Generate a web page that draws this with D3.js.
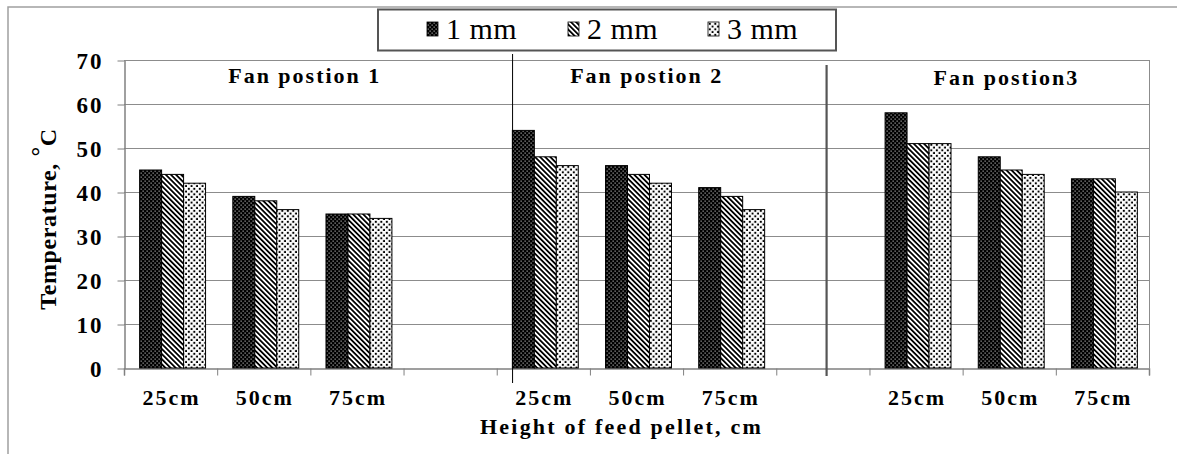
<!DOCTYPE html>
<html>
<head>
<meta charset="utf-8">
<script src="https://cdn.jsdelivr.net/npm/d3@7"></script>
<style>
  html, body { margin: 0; padding: 0; background: #fff; }
  svg { display: block; font-family: "Liberation Serif", "Times New Roman", serif; }
</style>
</head>
<body>
<svg id="chart" width="1177" height="454"></svg>
<script>
// data
var heights = ['25cm', '50cm', '75cm'];
var series = ['1 mm', '2 mm', '3 mm'];
var panels = ['Fan postion 1', 'Fan postion 2', 'Fan postion3'];
var mm1 = [45, 39, 35, 54, 46, 41, 58, 48, 43];
var mm2 = [44, 38, 35, 48, 44, 39, 51, 45, 43];
var mm3 = [42, 36, 34, 46, 42, 36, 51, 44, 40];
var yTicks = [0, 10, 20, 30, 40, 50, 60, 70];

(function () {
var values = [mm1, mm2, mm3];
var nSlots = 11;
var slots = d3.range(nSlots);

var svg = d3.select('#chart');
var plotL = 124, plotR = 1149, plotT = 60, plotB = 368;

// patterns
var defs = svg.append('defs');
var p1 = defs.append('pattern').attr('id', 'pat0').attr('patternUnits', 'userSpaceOnUse')
  .attr('width', 4).attr('height', 4);
p1.append('rect').attr('width', 4).attr('height', 4).attr('fill', '#000');
p1.append('rect').attr('x', 0.6).attr('y', 0.6).attr('width', 1).attr('height', 1).attr('fill', '#fff');
p1.append('rect').attr('x', 2.6).attr('y', 2.6).attr('width', 1).attr('height', 1).attr('fill', '#fff');

var p2 = defs.append('pattern').attr('id', 'pat1').attr('patternUnits', 'userSpaceOnUse')
  .attr('width', 3.6).attr('height', 3.6).attr('patternTransform', 'rotate(-45)');
p2.append('rect').attr('width', 3.6).attr('height', 3.6).attr('fill', '#fff');
p2.append('rect').attr('width', 1.8).attr('height', 3.6).attr('fill', '#000');

var p3 = defs.append('pattern').attr('id', 'pat2').attr('patternUnits', 'userSpaceOnUse')
  .attr('width', 5.5).attr('height', 5.5);
p3.append('rect').attr('width', 5.5).attr('height', 5.5).attr('fill', '#fff');
p3.append('rect').attr('x', 0.8).attr('y', 0.8).attr('width', 2).attr('height', 2).attr('fill', '#000');
p3.append('rect').attr('x', 3.55).attr('y', 3.55).attr('width', 2).attr('height', 2).attr('fill', '#000');

// outer frame
svg.append('path').attr('d', 'M8,454V7H1177')
  .attr('fill', 'none').attr('stroke', '#a0a0a0').attr('stroke-width', 1.5);

var x0 = d3.scaleBand().domain(slots).range([plotL, plotR]).padding(0);
var x1 = d3.scaleBand().domain(series).range([0, x0.bandwidth()]).paddingInner(0).paddingOuter(0.62);
var xs = d3.scaleLinear().domain([0, nSlots]).range([plotL, plotR]);
var y = d3.scaleLinear().domain([0, 70]).range([plotB, plotT]);

// grid
svg.append('g').selectAll('line').data(yTicks.slice(1)).enter().append('line')
  .attr('x1', plotL).attr('x2', plotR)
  .attr('y1', function (d) { return y(d) + 0.5; }).attr('y2', function (d) { return y(d) + 0.5; })
  .attr('stroke', '#8c8c8c').attr('stroke-width', 1);
svg.append('line').attr('x1', plotR + 0.5).attr('x2', plotR + 0.5).attr('y1', plotT).attr('y2', plotB)
  .attr('stroke', '#8c8c8c');

// y axis
var yAxis = svg.append('g').attr('transform', 'translate(' + (plotL + 0.5) + ',0.5)')
  .call(d3.axisLeft(y).tickValues(yTicks).tickSize(7).tickPadding(14).tickSizeOuter(0));
yAxis.select('.domain').attr('stroke', '#808080').attr('stroke-width', 1.5);
yAxis.selectAll('.tick line').attr('stroke', '#808080');
yAxis.selectAll('text').attr('font-family', '"Liberation Serif", serif').attr('font-size', 23)
  .attr('font-weight', 'bold').attr('fill', '#000').attr('letter-spacing', 2).attr('dy', '0.33em');

// x axis
var xAxis = svg.append('g').attr('transform', 'translate(0,' + (plotB + 0.5) + ')')
  .call(d3.axisBottom(xs).tickValues(d3.range(nSlots + 1)).tickSize(7).tickFormat(''));
xAxis.select('.domain').attr('stroke', '#808080').attr('stroke-width', 1.5);
xAxis.selectAll('.tick line').attr('stroke', '#808080');

// bars
var rows = [];
panels.forEach(function (p, pi) {
  heights.forEach(function (h, hi) {
    series.forEach(function (s, si) {
      rows.push({ slot: pi * 4 + hi, s: s, si: si, v: values[si][pi * 3 + hi] });
    });
  });
});
svg.append('g').selectAll('rect').data(rows).enter().append('rect')
  .attr('x', function (d) { return x0(d.slot) + x1(d.s) + 2; })
  .attr('y', function (d) { return y(d.v); })
  .attr('width', x1.bandwidth())
  .attr('height', function (d) { return y(0) - y(d.v); })
  .attr('fill', function (d) { return 'url(#pat' + d.si + ')'; })
  .attr('stroke', '#000').attr('stroke-width', 1);

// category labels
var labels = [];
panels.forEach(function (p, pi) {
  heights.forEach(function (h, hi) { labels.push({ slot: pi * 4 + hi, t: h }); });
});
svg.append('g').selectAll('text').data(labels).enter().append('text')
  .attr('x', function (d) { return x0(d.slot) + x0.bandwidth() / 2 + 1; })
  .attr('y', 405).attr('text-anchor', 'middle')
  .attr('font-size', 22).attr('font-weight', 'bold').attr('letter-spacing', 2)
  .text(function (d) { return d.t; });

// panel dividers
var dividers = [
  { at: 4.17, y1: 54, y2: 383, c: '#000', w: 1 },
  { at: 7.54, y1: 65, y2: 376, c: '#555', w: 2.2 }
];
svg.append('g').selectAll('line').data(dividers).enter().append('line')
  .attr('x1', function (d) { return xs(d.at); }).attr('x2', function (d) { return xs(d.at); })
  .attr('y1', function (d) { return d.y1; }).attr('y2', function (d) { return d.y2; })
  .attr('stroke', function (d) { return d.c; }).attr('stroke-width', function (d) { return d.w; });

// panel titles
var titlePos = [1.94, 5.61, 9.47];
svg.append('g').selectAll('text').data(panels).enter().append('text')
  .attr('x', function (d, i) { return xs(titlePos[i]); })
  .attr('y', function (d, i) { return i === 2 ? 85 : 83; })
  .attr('text-anchor', 'middle')
  .attr('font-size', 22).attr('font-weight', 'bold').attr('letter-spacing', 2)
  .text(function (d) { return d; });

// axis titles
svg.append('text').attr('x', (plotL + plotR) / 2 - 15).attr('y', 434).attr('text-anchor', 'middle')
  .attr('font-size', 22).attr('font-weight', 'bold').attr('letter-spacing', 2.2)
  .text('Height of feed pellet, cm');
var yt = svg.append('text').attr('transform', 'translate(56,219) rotate(-90)')
  .attr('text-anchor', 'middle').attr('font-size', 24).attr('font-weight', 'bold').attr('letter-spacing', 0.6);
yt.append('tspan').text('Temperature, ');
yt.append('tspan').attr('dy', -8).text('°');
yt.append('tspan').attr('dy', 8).text('C');

// legend
var lg = svg.append('g');
lg.append('rect').attr('x', 378).attr('y', 9.5).attr('width', 458).attr('height', 41)
  .attr('fill', '#fff').attr('stroke', '#555').attr('stroke-width', 2);
var legX = [427, 568, 708];
var li = lg.selectAll('g.item').data(series).enter().append('g').attr('class', 'item')
  .attr('transform', function (d, i) { return 'translate(' + legX[i] + ',0)'; });
li.append('rect').attr('x', 0).attr('y', 22).attr('width', 11).attr('height', 14)
  .attr('fill', function (d, i) { return 'url(#pat' + i + ')'; })
  .attr('stroke', '#000').attr('stroke-width', 0.8);
li.append('text').attr('x', 19).attr('y', 39).attr('font-size', 30).attr('letter-spacing', 0.5)
  .text(function (d) { return d; });
})();
</script>
</body>
</html>
